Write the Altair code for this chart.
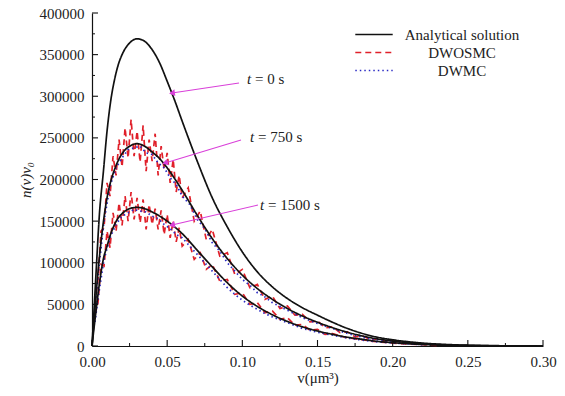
import altair as alt
import pandas as pd

# ---------------- data ----------------
v_an = [0, 0.0015, 0.003, 0.005, 0.0075, 0.01, 0.0125, 0.015, 0.0175, 0.02, 0.025, 0.03, 0.035,
        0.04, 0.045, 0.05, 0.055, 0.06, 0.07, 0.08, 0.09, 0.10, 0.11, 0.12, 0.13, 0.14, 0.15,
        0.16, 0.17, 0.18, 0.19, 0.20, 0.22, 0.24, 0.26, 0.30]
n_an_0 = [0, 48000, 98000, 160000, 208000, 258000, 295000, 320000, 338000, 350000, 364000, 369000,
          366000, 356000, 340000, 318000, 295000, 270000, 222000, 178000, 143000, 113000, 89000,
          71000, 57000, 46000, 37000, 28500, 21000, 15000, 10500, 7500, 3500, 1500, 600, 0]
n_an_750 = [0, 33000, 68000, 108000, 148000, 178000, 198000, 212000, 223000, 231000, 240000, 243000,
            240000, 233000, 225000, 214000, 201000, 187000, 157000, 129000, 105000, 85000, 69000,
            56000, 45000, 36000, 28500, 22000, 16500, 12000, 8500, 6000, 2700, 1100, 400, 0]
n_an_1500 = [0, 24000, 47000, 76000, 104000, 120000, 135000, 146000, 154000, 159000, 165000, 166500,
             165000, 161000, 156000, 150000, 143000, 135000, 115000, 95000, 76000, 60000, 47500,
             37500, 29500, 23000, 18000, 14000, 10500, 8000, 5500, 4000, 1800, 700, 250, 0]

v_red = [0.002, 0.004, 0.006, 0.008, 0.010, 0.012, 0.014, 0.016, 0.018, 0.020, 0.022, 0.024,
         0.026, 0.028, 0.030, 0.032, 0.034, 0.036, 0.038, 0.040, 0.042, 0.044, 0.046, 0.048,
         0.050, 0.052, 0.054, 0.056, 0.058, 0.060, 0.064, 0.068, 0.072, 0.076, 0.080, 0.085,
         0.090, 0.095, 0.100, 0.105, 0.110, 0.115, 0.120, 0.125, 0.130, 0.135, 0.140, 0.145,
         0.150, 0.155, 0.160, 0.165, 0.170, 0.175, 0.180, 0.185, 0.190, 0.195, 0.200, 0.210,
         0.220, 0.230]
n_red_750 = [52000, 80000, 138000, 142000, 196000, 180000, 228000, 205000, 248000, 215000, 262000,
             226000, 272000, 228000, 258000, 221000, 265000, 210000, 248000, 222000, 255000, 205000,
             240000, 212000, 232000, 196000, 224000, 185000, 205000, 178000, 190000, 150000, 162000,
             128000, 140000, 108000, 112000, 86000, 92000, 70000, 74000, 56000, 60000, 45000, 48000,
             37000, 38000, 29000, 30000, 22000, 23000, 16000, 17000, 11000, 12000, 8000, 8500, 5500,
             6000, 3500, 2500, 1000]
n_red_1500 = [38000, 52000, 98000, 96000, 138000, 118000, 160000, 138000, 172000, 145000, 180000,
              150000, 185000, 152000, 178000, 148000, 176000, 140000, 170000, 146000, 165000, 140000,
              163000, 134000, 158000, 130000, 150000, 125000, 142000, 120000, 128000, 104000, 112000,
              92000, 98000, 78000, 80000, 62000, 64000, 50000, 52000, 40000, 42000, 32000, 34000,
              25000, 26000, 19000, 20000, 14000, 15000, 12000, 10000, 8500, 7500, 6000, 5000, 4200,
              3500, 2500, 1500, 800]

v_blue = [0.002, 0.004, 0.008, 0.012, 0.016, 0.020, 0.024, 0.028, 0.032, 0.036, 0.040, 0.044,
          0.048, 0.052, 0.056, 0.060, 0.065, 0.070, 0.075, 0.080, 0.085, 0.090, 0.095, 0.100,
          0.105, 0.110, 0.115, 0.120, 0.13, 0.14, 0.15, 0.16, 0.17, 0.18, 0.19, 0.20, 0.21, 0.22]
n_blue_750 = [42000, 84000, 150000, 192000, 214000, 226000, 236000, 238000, 240000, 232000, 230000,
              220000, 214000, 202000, 194000, 180000, 170000, 152000, 141000, 124000, 114000, 100000,
              90000, 80000, 73000, 64000, 59000, 52000, 43000, 34000, 27000, 21000, 15000, 10500,
              7500, 5000, 3500, 2000]
n_blue_1500 = [29000, 57000, 104000, 130000, 146000, 156000, 160000, 164000, 162000, 161000, 156000,
               153000, 146000, 141000, 134000, 130000, 120000, 110000, 100000, 90000, 80000, 70000,
               62000, 55000, 49000, 44000, 39000, 35000, 28000, 21000, 16500, 13000, 9500, 7000,
               5000, 3500, 2500, 1500]

series_names = ["Analytical solution", "DWOSMC", "DWMC"]
series_colors = ["#111111", "#e0202a", "#2a2ac4"]
series_dashes = [[1, 0], [6, 4], [1.5, 3]]

# annotation (labels and arrows), in data units
ann_label_t = ["t", "t", "t"]
ann_label_rest = ["= 0 s", "= 750 s", "= 1500 s"]
ann_text_v = [0.1031, 0.1051, 0.1118]
ann_text_n = [320700, 251000, 169300]
arrow_start_v = [0.0978, 0.0991, 0.1104]
arrow_start_n = [315900, 247400, 169300]
arrow_tip_v = [0.0532, 0.0486, 0.0532]
arrow_tip_n = [303900, 219800, 145300]
arrow_angle = [352, 343, 347]

x_major = [0, 0.05, 0.10, 0.15, 0.20, 0.25, 0.30]
x_minor = [0.025, 0.075, 0.125, 0.175, 0.225, 0.275]
y_major = [0, 50000, 100000, 150000, 200000, 250000, 300000, 350000, 400000]
y_minor = [25000, 75000, 125000, 175000, 225000, 275000, 325000, 375000]

# ---------------- tables ----------------
rows = []
for t, arr in (("0", n_an_0), ("750", n_an_750), ("1500", n_an_1500)):
    for v, n in zip(v_an, arr):
        rows.append({"v": v, "n": n, "series": "Analytical solution", "key": "A" + t})
an_df = pd.DataFrame(rows)

rows = []
for t, arr in (("750", n_red_750), ("1500", n_red_1500)):
    for v, n in zip(v_red, arr):
        rows.append({"v": v, "n": n, "series": "DWOSMC", "key": "R" + t})
for t, arr in (("750", n_blue_750), ("1500", n_blue_1500)):
    for v, n in zip(v_blue, arr):
        rows.append({"v": v, "n": n, "series": "DWMC", "key": "B" + t})
sim_df = pd.DataFrame(rows)

arrow_rows = []
for i in range(3):
    arrow_rows.append({"v": arrow_start_v[i], "n": arrow_start_n[i], "k": i})
    arrow_rows.append({"v": arrow_tip_v[i], "n": arrow_tip_n[i], "k": i})
arrow_df = pd.DataFrame(arrow_rows)
tip_df = pd.DataFrame({"v": arrow_tip_v, "n": arrow_tip_n, "ang": arrow_angle})
label_df = pd.DataFrame({"v": ann_text_v, "n": ann_text_n, "t": ann_label_t, "rest": ann_label_rest})

W, H = 451, 333
FONT = "Liberation Serif"

xscale = alt.Scale(domain=[0, 0.30], nice=False, zero=False)
yscale = alt.Scale(domain=[0, 400000], nice=False)
color = alt.Color("series:N", scale=alt.Scale(domain=series_names, range=series_colors),
                  legend=alt.Legend(title=None, orient="none", legendX=262, legendY=13,
                                    symbolType="stroke", symbolSize=1400, symbolStrokeWidth=1.6,
                                    labelFont=FONT, labelFontSize=15, labelColor="#222",
                                    labelAlign="center", labelOffset=68, clipHeight=17,
                                    rowPadding=1))
dash = alt.StrokeDash("series:N", scale=alt.Scale(domain=series_names, range=series_dashes),
                      legend=None)
swidth = alt.StrokeWidth("series:N", scale=alt.Scale(domain=series_names, range=[1.7, 1.7, 1.4]),
                         legend=None)

x_enc = alt.X("v:Q", scale=xscale,
              axis=alt.Axis(values=x_major, format=".2f", title="v(μm³)", ticks=False,
                            grid=False, labelFlush=False, labelFont=FONT, labelFontSize=15,
                            labelColor="#222", labelPadding=8, titleFont=FONT, titleFontSize=15,
                            titleFontWeight="normal", titleColor="#222", titlePadding=1,
                            domainColor="#111", domainWidth=1.2))
y_enc = alt.Y("n:Q", scale=yscale,
              axis=alt.Axis(values=y_major, format="d", title="n(v)v₀", ticks=False,
                            grid=False, labelFlush=False, labelFont=FONT, labelFontSize=15,
                            labelColor="#222", labelPadding=8, titleFont=FONT, titleFontSize=15,
                            titleFontStyle="italic", titleFontWeight="normal",
                            titleColor="#222", titlePadding=6,
                            domainColor="#111", domainWidth=1.2))

sims = alt.Chart(sim_df).mark_line().encode(
    x=x_enc, y=y_enc, color=color, strokeDash=dash, strokeWidth=swidth, detail="key:N")
anal = alt.Chart(an_df).mark_line(interpolate="monotone").encode(
    x=alt.X("v:Q", scale=xscale), y=alt.Y("n:Q", scale=yscale),
    color=color, strokeDash=dash, strokeWidth=swidth, detail="key:N")

arrows = alt.Chart(arrow_df).mark_line(color="#d940d9", strokeWidth=1.1).encode(
    x=alt.X("v:Q", scale=xscale), y=alt.Y("n:Q", scale=yscale), detail="k:N")
tips = alt.Chart(tip_df).mark_point(shape="triangle-left", filled=True, color="#d940d9",
                                    size=45, opacity=1).encode(
    x=alt.X("v:Q", scale=xscale), y=alt.Y("n:Q", scale=yscale),
    angle=alt.Angle("ang:Q", scale=None))
lab_t = alt.Chart(label_df).mark_text(font=FONT, fontSize=15, fontStyle="italic", align="left",
                                      baseline="middle", color="#222").encode(
    x=alt.X("v:Q", scale=xscale), y=alt.Y("n:Q", scale=yscale), text="t:N")
lab_rest = alt.Chart(label_df).mark_text(font=FONT, fontSize=15, align="left", dx=8,
                                         baseline="middle", color="#222").encode(
    x=alt.X("v:Q", scale=xscale), y=alt.Y("n:Q", scale=yscale), text="rest:N")

xt_major = alt.Chart(pd.DataFrame({"v": x_major})).mark_rule(color="#111", strokeWidth=1.1).encode(
    x=alt.X("v:Q", scale=xscale), y=alt.value(H), y2=alt.value(H - 6))
xt_minor = alt.Chart(pd.DataFrame({"v": x_minor})).mark_rule(color="#111", strokeWidth=1).encode(
    x=alt.X("v:Q", scale=xscale), y=alt.value(H), y2=alt.value(H - 3))
yt_major = alt.Chart(pd.DataFrame({"n": y_major})).mark_rule(color="#111", strokeWidth=1.1).encode(
    y=alt.Y("n:Q", scale=yscale), x=alt.value(0), x2=alt.value(6))
yt_minor = alt.Chart(pd.DataFrame({"n": y_minor})).mark_rule(color="#111", strokeWidth=1).encode(
    y=alt.Y("n:Q", scale=yscale), x=alt.value(0), x2=alt.value(3))

chart = alt.layer(sims, anal, arrows, tips, lab_t, lab_rest,
                  xt_major, xt_minor, yt_major, yt_minor).properties(
    width=W, height=H,
    autosize=alt.AutoSizeParams(type="none"),
    padding={"left": 92, "top": 13, "right": 22, "bottom": 50},
    background="white",
).configure_view(stroke=None)

chart.save("out.html", embed_options={"renderer": "svg", "actions": False})
